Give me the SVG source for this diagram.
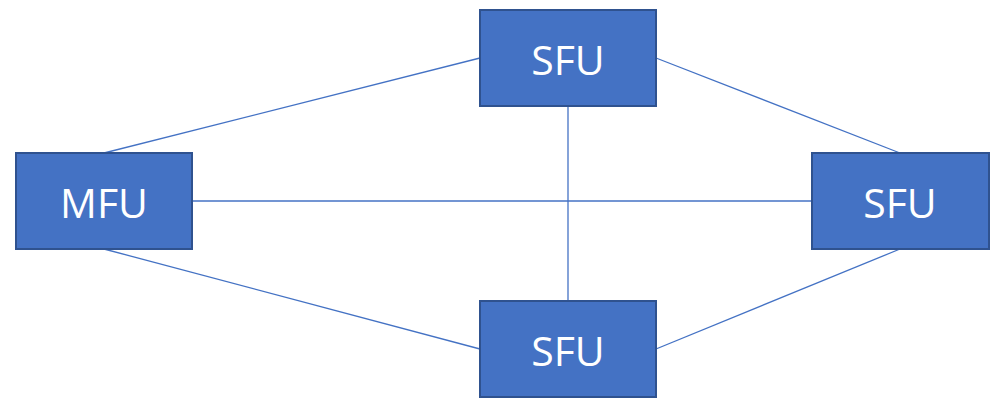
<svg xmlns="http://www.w3.org/2000/svg" width="997" height="398" viewBox="0 0 997 398">
  <style>
    .box { fill: #4472C4; stroke: #2F528F; stroke-width: 2; }
    .label { fill: #FFFFFF; font-family: "Open Sans", "Liberation Sans", sans-serif; font-size: 41px; text-anchor: middle; dominant-baseline: central; }
    .link { stroke: #4472C4; stroke-width: 1.3; fill: none; }
  </style>
  <rect width="997" height="398" fill="#FFFFFF"/>
  <g id="connectors">
    <line class="link" x1="104" y1="153" x2="480" y2="58"/>
    <line class="link" x1="656" y1="58" x2="900" y2="153"/>
    <line class="link" x1="192" y1="201" x2="812" y2="201"/>
    <line class="link" x1="568" y1="106" x2="568" y2="301"/>
    <line class="link" x1="104" y1="249" x2="480" y2="349"/>
    <line class="link" x1="656" y1="349" x2="900" y2="249"/>
  </g>
  <g id="sfu-top">
    <rect class="box" x="480" y="10" width="176" height="96"/>
    <text class="label" x="568" y="59">SFU</text>
  </g>
  <g id="mfu-left">
    <rect class="box" x="16" y="153" width="176" height="96"/>
    <text class="label" x="104" y="202">MFU</text>
  </g>
  <g id="sfu-right">
    <rect class="box" x="812" y="153" width="177" height="96"/>
    <text class="label" x="900" y="202">SFU</text>
  </g>
  <g id="sfu-bottom">
    <rect class="box" x="480" y="301" width="176" height="96"/>
    <text class="label" x="568" y="350">SFU</text>
  </g>
</svg>
